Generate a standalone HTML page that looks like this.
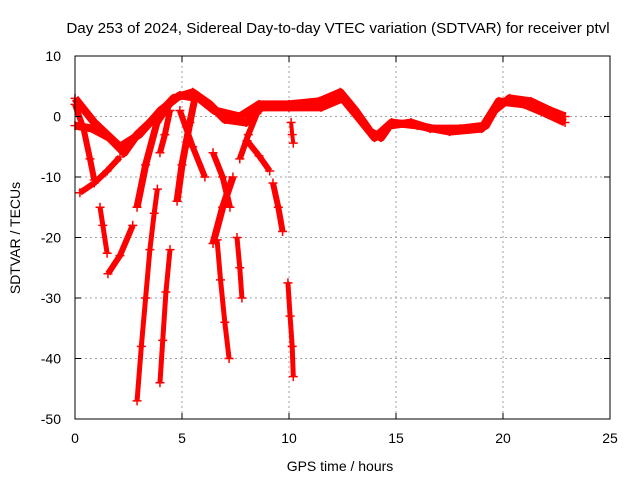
<!DOCTYPE html>
<html><head><meta charset="utf-8"><style>
body{margin:0;background:#fff}
svg{display:block;font-family:"Liberation Sans",sans-serif}
</style></head><body>
<svg id="chart" width="640" height="480" viewBox="0 0 640 480">
<text x="338" y="33" font-size="15.2" text-anchor="middle">Day 253 of 2024, Sidereal Day-to-day VTEC variation (SDTVAR) for receiver ptvl</text>
<text x="340" y="471" font-size="14" text-anchor="middle">GPS time / hours</text>
<text x="20" y="238" font-size="14" text-anchor="middle" transform="rotate(-90 20 238)">SDTVAR / TECUs</text>
<g id="grid"></g>
<g id="marks"></g>
<rect x="75" y="56" width="535" height="363" fill="none" stroke="#000" stroke-width="1"/>
<g id="ticks"></g>
</svg>
<script>
const xTicks=[0,5,10,15,20,25];
const yTicks=[-50,-40,-30,-20,-10,0,10];
const bandMain=[[0,3],[0.9,-1],[2.1,-5],[3.0,-3],[4.0,1],[4.9,3.5],[5.8,3],[6.5,1],[7.7,0],[8.6,2],[10,2],[11.4,2.5],[12.4,4],[13.1,1],[13.8,-2.5],[14.3,-3.5],[14.7,-1.5],[15.7,-1],[16.6,-2],[18,-2],[19.2,-1.5],[19.6,1],[20.3,3],[21.3,2.5],[22.2,1],[22.9,0]];
const bandLower=[[0,-1.5],[0.8,-2],[1.6,-3.5],[2.3,-6],[2.9,-3],[3.8,0],[4.6,3],[5.5,4],[6.3,2],[7.0,-0.5],[8.0,-1],[8.7,1.5],[10,1.5],[11.5,1.5],[12.5,3],[13.2,0],[14.0,-3.5],[14.8,-1],[16,-1.5],[17.5,-2.5],[19,-2],[19.8,2.5],[21,2],[22,0.5],[22.9,-1]];
const trkA=[[0,2],[0.4,-2],[0.7,-7],[0.9,-10.5]];
const trkB=[[0.23,-12.6],[0.9,-11],[1.5,-9],[2.1,-6.7]];
const trkC=[[1.17,-15],[1.3,-18],[1.5,-22.6]];
const trkD=[[1.54,-26],[2.1,-23],[2.7,-18]];
const tailE=[[2.9,-47],[3.1,-38],[3.3,-30],[3.5,-22],[3.7,-16],[3.85,-12]];
const trkF=[[2.9,-15],[3.3,-8],[3.83,-1],[4.6,3]];
const trkG=[[3.97,-6],[4.2,-3],[4.44,1]];
const tailH=[[3.97,-44],[4.1,-37],[4.25,-29],[4.44,-22]];
const trkI=[[4.77,-14],[5.0,-8],[5.37,-1],[5.6,3]];
const trkJ=[[4.9,1],[5.5,-5],[6.07,-10]];
const trkK=[[6.45,-6],[6.9,-10],[7.24,-15]];
const trkL=[[7.38,-10],[6.9,-15],[6.45,-21]];
const tailM=[[6.64,-20.4],[6.8,-27],[7.0,-34],[7.2,-40]];
const tailN=[[7.57,-20],[7.7,-25],[7.8,-30]];
const trkO=[[7.7,-7],[8.1,-3],[8.5,0.5]];
const trkP=[[8.04,-4],[8.6,-6.5],[9.1,-9]];
const trkQ=[[9.25,-11],[9.5,-15],[9.7,-19]];
const tailR=[[9.95,-27.5],[10.05,-33],[10.15,-38],[10.2,-43]];
const trkS=[[10.1,-1],[10.15,-3],[10.2,-4.4]];
const series=[bandMain,bandLower,trkA,trkB,trkC,trkD,tailE,trkF,trkG,tailH,trkI,trkJ,trkK,trkL,tailM,tailN,trkO,trkP,trkQ,tailR,trkS];
const widths=[8,8,6,6,5,6,5,7,6,5,7,6,6,7,5,5,6,6,6,5,4];
const NS="http://www.w3.org/2000/svg";
const X=v=>75+v*21.4;
const Y=v=>116.5-v*6.05;
const grid=document.getElementById('grid'),ticks=document.getElementById('ticks'),marks=document.getElementById('marks');
function mk(t,a,p){const e=document.createElementNS(NS,t);for(const k in a)e.setAttribute(k,a[k]);p.appendChild(e);return e;}
xTicks.forEach(t=>{
 const x=X(t);
 if(t>0&&t<25){const g=mk('line',{x1:x,x2:x,y1:56,y2:419,stroke:'#a0a0a0','stroke-dasharray':'2,3'},grid);
 
 }
 const l=mk('text',{x:x,y:443,'font-size':14,'text-anchor':'middle'},ticks);l.textContent=t;
 
 
 mk('line',{x1:x,x2:x,y1:419,y2:413,stroke:'#000'},ticks);mk('line',{x1:x,x2:x,y1:56,y2:62,stroke:'#000'},ticks);
});
yTicks.forEach(t=>{
 const y=Y(t);
 if(t>-50&&t<10){const g=mk('line',{x1:75,x2:610,y1:y,y2:y,stroke:'#a0a0a0','stroke-dasharray':'2,3'},grid);
 
 }
 const l=mk('text',{x:61,y:y+5,'font-size':14,'text-anchor':'end'},ticks);l.textContent=t;
 
 
 mk('line',{x1:75,x2:81,y1:y,y2:y,stroke:'#000'},ticks);mk('line',{x1:610,x2:604,y1:y,y2:y,stroke:'#000'},ticks);
});
series.forEach((s,i)=>{
 const pl=mk('polyline',{points:s.map(p=>X(p[0])+','+Y(p[1])).join(' '),fill:'none',stroke:'#f00','stroke-width':widths[i],'stroke-linejoin':'round','stroke-linecap':'butt'},marks);
 
 
 s.forEach(p=>{
  const x=X(p[0]),y=Y(p[1]);
  const m=mk('path',{d:`M${x-4.5},${y}H${x+4.5}M${x},${y-4.5}V${y+4.5}`,stroke:'#f00','stroke-width':1.5},marks);
  
  
 });
});
</script>
</body></html>
